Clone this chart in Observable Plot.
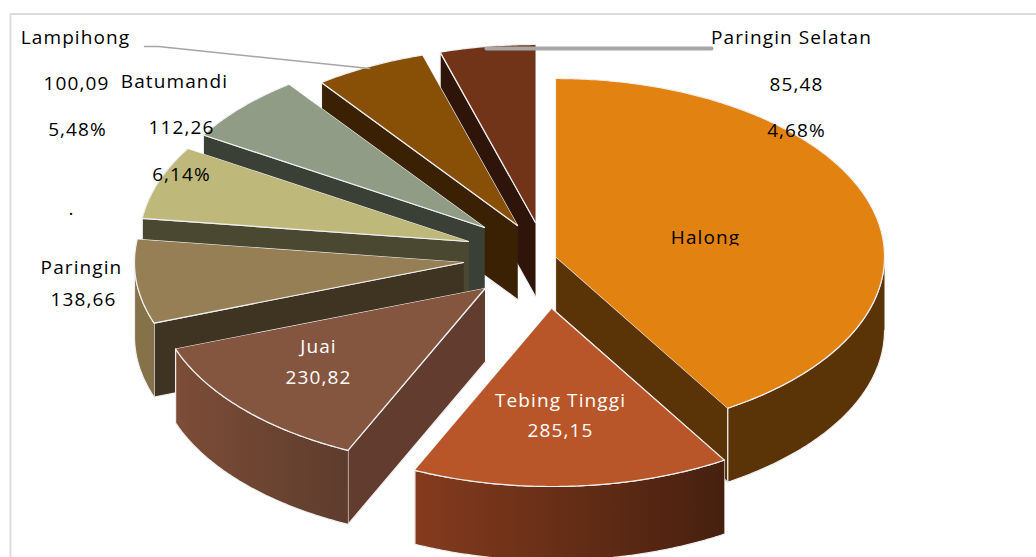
<!DOCTYPE html>
<html>
<head>
<meta charset="utf-8">
<style>html,body{margin:0;padding:0;background:#fff;overflow:hidden}svg{display:block}svg text{letter-spacing:1.1px}</style>
<script src="https://cdn.jsdelivr.net/npm/d3@7"></script>
<script src="https://cdn.jsdelivr.net/npm/@observablehq/plot@0.6"></script>
</head>
<body>
<script>
// ---- data ----
const categories = ["Halong","Tebing Tinggi","Juai","Paringin","(tanpa label)","Batumandi","Lampihong","Paringin Selatan"];
const values = [753, 285.15, 230.82, 138.66, 121, 112.26, 100.09, 85.48];

// ---- colours ----
const topColors  = ["#E28211","#B95629","#84563F","#967F55","#BFB87B","#909C85","#875006","#723418"];
const wallColors = ["#5A3407","#47200F","#623D2F","#3E3421","#4B4832","#3A4035","#3A2103","#2E1409"];
const rimColors  = ["#5A3407","url(#rimTebing)","url(#rimJuai)","#857249","#4B4832","#3A4035","#3A2103","#2E1409"];

// ---- pie geometry (3-D projection) ----
const W = 1036, H = 557;
const cx = 540, cy = 265, rx = 329, ry = 178, depth = 74;
const X = p => (p - cx) / rx, Y = p => (cy - p) / ry;
const apexes = [[555,256],[551.5,308],[484.5,288],[463,262],[468,241],[484,227],[517,225],[535,222]];
const D = depth / ry;
const total = d3.sum(values);

let acc = 0;
const slices = values.map((v, i) => {
  const a0 = acc / total * 2 * Math.PI; acc += v;
  const a1 = acc / total * 2 * Math.PI;
  return {i, a0, a1, ax: X(apexes[i][0]), ay: Y(apexes[i][1])};
});
const rim = (s, a, down = 0) => ({x: s.ax + Math.sin(a), y: s.ay + Math.cos(a) - down});
const arc = (s, a0, a1, down = 0) => {
  const n = Math.max(2, Math.ceil((a1 - a0) / 0.01));
  return d3.range(n + 1).map(k => rim(s, a0 + (a1 - a0) * k / n, down));
};

const points = [];
const addFace = (id, fill, pts) => pts.forEach(p => points.push({...p, id, fill}));
slices.forEach(s => {
  const apex = {x: s.ax, y: s.ay}, apexD = {x: s.ax, y: s.ay - D};
  addFace(s.i + "e", wallColors[s.i], [apex, rim(s, s.a1), rim(s, s.a1, D), apexD]);
  addFace(s.i + "s", wallColors[s.i], [apex, rim(s, s.a0), rim(s, s.a0, D), apexD]);
  const from = Math.max(s.a0, Math.PI / 2), to = Math.min(s.a1, 1.5 * Math.PI);
  if (to > from) addFace(s.i + "o", rimColors[s.i], [...arc(s, from, to), ...arc(s, from, to, D).reverse()]);
  addFace(s.i + "t", topColors[s.i], [apex, ...arc(s, s.a0, s.a1)]);
});
// painter's order: back slices first, Halong then Tebing Tinggi in front
const order = [7, 6, 5, 4, 3, 2, 0, 1];
const orderedPoints = order.flatMap(i => ["e","s","o","t"].flatMap(f => points.filter(p => p.id === i + f)));

// ---- text ----
const labelText  = ["Lampihong","100,09","5,48%","Batumandi","112,26","6,14%",".","Paringin","138,66","Paringin Selatan","85,48","4,68%","Juai","230,82","Tebing Tinggi","285,15"];
const labelX     = [75,76,77,174,181,181,71,81,83,791,796,796,318,318,560,560];
const labelY     = [43,89,135,87,133,180,214,273,305,43,90,136,352,383,406,436];
const labelColor = ["#000","#000","#000","#000","#000","#000","#000","#000","#000","#000","#000","#000","#fff","#fff","#fff","#fff"];
const labels = labelText.map((t, i) => ({t, x: X(labelX[i]), y: Y(labelY[i]), c: labelColor[i]}));

const font = {fontFamily: "Open Sans", fontSize: 19, textAnchor: "middle", lineAnchor: "bottom"};

const defs = () => {
  const d = d3.create("svg:defs");
  const grad = (id, a, b) => {
    const g = d.append("linearGradient").attr("id", id);
    g.append("stop").attr("offset", 0).attr("stop-color", a);
    g.append("stop").attr("offset", 1).attr("stop-color", b);
  };
  grad("rimTebing", "#843B1E", "#46200F");
  grad("rimJuai", "#7C4D37", "#5E3C2D");
  d.append("clipPath").attr("id", "halongClip").append("rect")
    .attr("x", 640).attr("y", 215).attr("width", 130).attr("height", 30);
  return d.node();
};

const chart = Plot.plot({
  width: W, height: H, margin: 0,
  style: {background: "#fff", overflow: "visible"},
  x: {axis: null, domain: [X(0), X(W)], range: [0, W]},
  y: {axis: null, domain: [Y(H), Y(0)], range: [H, 0]},
  color: {type: "identity"},
  marks: [
    defs,
    // chart frame
    Plot.line([{x: X(10), y: Y(H)}, {x: X(10), y: Y(13.5)}, {x: X(W), y: Y(13.5)}],
      {x: "x", y: "y", stroke: "#dcdcdc", strokeWidth: 2, strokeLinejoin: "miter"}),
    // slices
    Plot.line(orderedPoints, {x: "x", y: "y", z: "id", fill: "fill", stroke: "#efefef", strokeWidth: 1.2, curve: "linear", strokeLinejoin: "round"}),
    // leader lines
    Plot.line([{x: X(144), y: Y(46)}, {x: X(158), y: Y(46)}, {x: X(369), y: Y(68)}],
      {x: "x", y: "y", stroke: "#a6a6a6", strokeWidth: 1.5}),
    Plot.line([{x: X(486), y: Y(48)}, {x: X(711), y: Y(48)}],
      {x: "x", y: "y", stroke: "#a6a6a6", strokeWidth: 4}),
    // labels
    Plot.text(labels, {x: "x", y: "y", text: "t", fill: "c", ...font}),
    Plot.text(["Halong"], {x: X(705), y: Y(243), text: d => d, fill: "#000", ...font,
      render(index, scales, values, dims, ctx, next) {
        const g = next(index, scales, values, dims, ctx);
        g.setAttribute("clip-path", "url(#halongClip)");
        return g;
      }})
  ]
});
document.body.append(chart);
</script>
</body>
</html>
